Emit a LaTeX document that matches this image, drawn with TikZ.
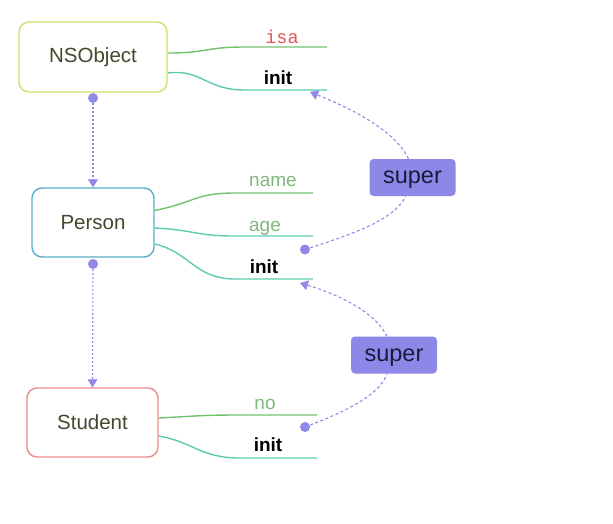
\documentclass[tikz,border=0pt]{standalone}
\usepackage{fontspec}
\setmainfont{Liberation Sans}
\setmonofont{Liberation Mono}
\usetikzlibrary{arrows.meta}
\definecolor{nsc}{HTML}{C8E26A}
\definecolor{pc}{HTML}{5AAEC8}
\definecolor{sc}{HTML}{E88C8C}
\definecolor{boxtxt}{HTML}{414A2C}
\definecolor{gl}{HTML}{72C26E}
\definecolor{tl}{HTML}{5CCBB2}
\definecolor{lg}{HTML}{7FB87A}
\definecolor{isared}{HTML}{E2555A}
\definecolor{supfill}{HTML}{8D87E8}
\definecolor{suptxt}{HTML}{1A1A3A}
\definecolor{pur}{HTML}{9089E6}
\tikzset{
  cls/.style={draw, line width=1.4pt, rounded corners=10pt, fill=white,
    text=boxtxt, font=\fontsize{20.5}{24}\selectfont},
  gline/.style={draw=gl, line width=1.4pt},
  tline/.style={draw=tl, line width=1.4pt},
  lbl/.style={anchor=base, inner sep=0pt, font=\fontsize{19}{22}\selectfont},
  superbox/.style={fill=supfill, rounded corners=4pt, text=suptxt,
    minimum width=86pt, minimum height=37pt, text height=12pt, text depth=0pt,
    font=\fontsize{23.5}{27}\selectfont},
  pdot/.style={circle, fill=pur, inner sep=0pt, minimum size=10pt},
  vconn/.style={draw=pur, line width=1.1pt, dash pattern=on 2pt off 2pt,
    -{Triangle[width=10pt,length=8pt]}},
  sconn/.style={draw=pur, line width=1.1pt, dash pattern=on 3pt off 2.5pt},
}
\begin{document}
\begin{tikzpicture}[x=1pt,y=-1pt]
\useasboundingbox (0,0) rectangle (613,523);
% class boxes
\node[cls, draw=nsc, minimum width=148pt, minimum height=70pt] (ns) at (93,57) {NSObject};
\node[cls, draw=pc, minimum width=122pt, minimum height=69pt] (pe) at (93,222.5) {Person};
\node[cls, draw=sc, minimum width=131pt, minimum height=69pt] (st) at (92.5,422.5) {Student};

% end coordinates
\coordinate (nsisaM) at (245,47);  \coordinate (nsisaE) at (327,47);
\coordinate (nsinitM) at (245,90); \coordinate (nsinitE) at (327,90);
\coordinate (pnameM) at (235,193); \coordinate (pnameE) at (313,193);
\coordinate (pageM) at (235,236);  \coordinate (pageE) at (313,236);
\coordinate (pinitM) at (235,279); \coordinate (pinitE) at (313,279);
\coordinate (snoM) at (240,415);   \coordinate (snoE) at (317,415);
\coordinate (sinitM) at (240,458); \coordinate (sinitE) at (317,458);

% branches
\draw[gline] ([yshift=4pt]ns.east) .. controls +(40,0) and +(-40,0) .. (nsisaM) -- (nsisaE);
\draw[tline] ([yshift=-16pt]ns.east) .. controls +(35,-4) and +(-40,0) .. (nsinitM) -- (nsinitE);
\draw[gline] ([yshift=12pt]pe.east) .. controls +(40,-8) and +(-40,0) .. (pnameM) -- (pnameE);
\draw[tline] ([yshift=-5.5pt]pe.east) .. controls +(40,2) and +(-40,0) .. (pageM) -- (pageE);
\draw[tline] ([yshift=-21.5pt]pe.east) .. controls +(35,8) and +(-40,0) .. (pinitM) -- (pinitE);
\draw[gline] ([yshift=4.5pt]st.east) .. controls +(40,-2) and +(-40,0) .. (snoM) -- (snoE);
\draw[tline] ([yshift=-13.5pt]st.east) .. controls +(35,6) and +(-40,0) .. (sinitM) -- (sinitE);

% labels
\node[lbl, text=isared] (lisa) at (282,43) {\fontsize{18.5}{22}\selectfont\ttfamily isa};
\node[lbl, text=black] (lnsinit) at (278,84.3) {\bfseries init};
\node[lbl, text=lg] (lname) at (273,186.7) {name};
\node[lbl, text=lg] (lage) at (265,231) {age};
\node[lbl, text=black] (lpinit) at (264,273) {\bfseries init};
\node[lbl, text=lg] (lno) at (265,409) {no};
\node[lbl, text=black] (lsinit) at (268,451.7) {\bfseries init};

% inheritance connectors
\node[pdot] (d1) at (93,98) {};
\node[pdot] (d2) at (93,264) {};
\draw[vconn] (d1) -- (pe.north);
\draw[vconn] (d2) -- (st.north);

% super connectors
\node[superbox] (sup1) at (412.5,177.5) {super};
\node[superbox] (sup2) at (394,355) {super};
\node[pdot] (d3) at (305,249.5) {};
\node[pdot] (d4) at (305,427) {};
\coordinate (t1) at (310,92);
\coordinate (t2) at (300,283);
\draw[sconn] (d3.center) .. controls (350,235) and (395,220) .. ([xshift=-7pt]sup1.south);
\draw[sconn, -{Triangle[width=10pt,length=8pt]}] ([xshift=-4pt]sup1.north) .. controls (395,130) and (350,108) .. (t1);
\draw[sconn] (d4.center) .. controls (345,412) and (380,395) .. ([xshift=-7pt]sup2.south);
\draw[sconn, -{Triangle[width=10pt,length=8pt]}] ([xshift=-7pt]sup2.north) .. controls (375,312) and (340,295) .. (t2);
\end{tikzpicture}
\end{document}
